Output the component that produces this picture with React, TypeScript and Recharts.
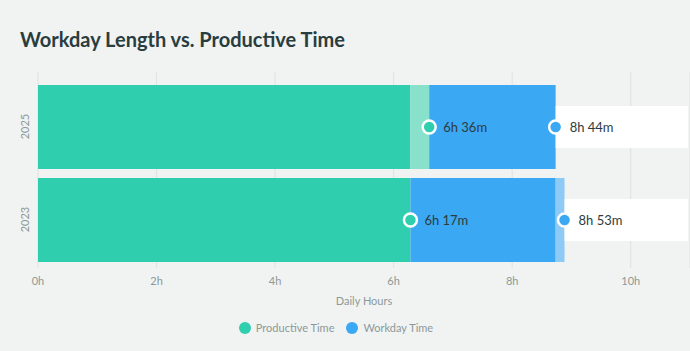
import { BarChart, Bar, XAxis, YAxis, CartesianGrid, Legend, LabelList } from "recharts";

const years = ["2025", "2023"];
const productiveMinutes = [396, 377]; // 6h 36m, 6h 17m
const workdayMinutes = [524, 533]; // 8h 44m, 8h 53m
const hourTicks = [0, 2, 4, 6, 8, 10];
const seriesNames = ["Productive Time", "Workday Time"];

const X_MAX = 11;
const GREEN = "#2fceae";
const GREEN_LIGHT = "#88e2cb";
const BLUE = "#3aa8f3";
const BLUE_LIGHT = "#8dcaf6";
const BG = "#f0f3f2";
const MUTED = "#8d9999";
const FONT = "Lato, 'Open Sans', sans-serif";

const fmt = (m: number) => `${Math.floor(m / 60)}h ${m % 60}m`;

const minProd = Math.min(...productiveMinutes) / 60;
const minWork = Math.min(...workdayMinutes) / 60;

// stacked segments: shared part in full colour, the gap to the other year in a lighter tint
const data = years.map((year, i) => {
  const prod = productiveMinutes[i] / 60;
  const work = workdayMinutes[i] / 60;
  return {
    year,
    prodBase: minProd,
    prodExtra: prod - minProd,
    workBase: minWork - prod,
    workExtra: work - minWork,
    workday: work,
  };
});

function ValueMarks(props: any) {
  const { x, y, width, height, value } = props;
  const i = years.indexOf(String(value));
  if (i < 0) return null;
  const perHour = width / (workdayMinutes[i] / 60);
  const cy = y + height / 2;
  const px = x + (productiveMinutes[i] / 60) * perHour;
  const wx = x + width;
  const right = x + X_MAX * perHour - 2;
  return (
    <g>
      <rect x={wx} y={cy - 21} width={right - wx} height={42} fill="#ffffff" />
      <circle cx={px} cy={cy} r={6.5} fill={GREEN} stroke="#fff" strokeWidth={2.5} />
      <text x={px + 14} y={cy} dominantBaseline="central" fontSize={13} fill="#2e3b3b" fontFamily={FONT}>
        {fmt(productiveMinutes[i])}
      </text>
      <circle cx={wx} cy={cy} r={6.5} fill={BLUE} stroke="#fff" strokeWidth={2.5} />
      <text x={wx + 14} y={cy} dominantBaseline="central" fontSize={13} fill="#2e3b3b" fontFamily={FONT}>
        {fmt(workdayMinutes[i])}
      </text>
    </g>
  );
}

function YearTick(props: any) {
  const { y, payload } = props;
  return (
    <text
      x={24}
      y={y}
      transform={`rotate(-90, 24, ${y})`}
      textAnchor="middle"
      dominantBaseline="central"
      fontSize={11}
      fill={MUTED}
      fontFamily={FONT}
    >
      {payload.value}
    </text>
  );
}

const renderLegend = () => (
  <div
    style={{
      display: "flex",
      justifyContent: "center",
      gap: 12,
      paddingRight: 18,
      fontSize: 11,
      lineHeight: "20px",
      color: MUTED,
      fontFamily: FONT,
    }}
  >
    {seriesNames.map((n, i) => (
      <span key={n} style={{ display: "flex", alignItems: "center" }}>
        <span
          style={{
            width: 12,
            height: 12,
            borderRadius: 6,
            background: i === 0 ? GREEN : BLUE,
            marginRight: 5,
          }}
        />
        {n}
      </span>
    ))}
  </div>
);

export default function App() {
  return (
    <div
      style={{
        position: "absolute",
        left: 0,
        top: 0,
        width: 690,
        height: 351,
        background: BG,
        fontFamily: FONT,
        overflow: "hidden",
      }}
    >
      <div
        style={{
          position: "absolute",
          left: 20,
          top: 27,
          fontSize: 20,
          fontWeight: 700,
          color: "#2a3d3e",
          lineHeight: "24px",
        }}
      >
        Workday Length vs. Productive Time
      </div>
      <BarChart
        width={690}
        height={351}
        data={data}
        layout="vertical"
        margin={{ top: 72, right: 0, bottom: 13, left: 0 }}
      >
        <XAxis
          type="number"
          domain={[0, X_MAX]}
          ticks={hourTicks}
          tickFormatter={(v) => `${v}h`}
          axisLine={false}
          tickLine={false}
          tickMargin={3}
          height={50}
          tick={{ fontSize: 11, fill: MUTED, fontFamily: FONT }}
          label={{ value: "Daily Hours", position: "insideBottom", offset: 13, fontSize: 11, fill: MUTED, fontFamily: FONT }}
        />
        <YAxis
          yAxisId="main"
          type="category"
          dataKey="year"
          width={38}
          axisLine={false}
          tickLine={false}
          tick={<YearTick />}
          padding={{ top: 8, bottom: 2 }}
        />
        <YAxis yAxisId="marks" type="category" dataKey="year" hide padding={{ top: 8, bottom: 2 }} />
        <Legend verticalAlign="bottom" height={20} content={renderLegend} />
        <Bar yAxisId="main" dataKey="prodBase" stackId="a" fill={GREEN} barSize={84} isAnimationActive={false} legendType="none" />
        <Bar yAxisId="main" dataKey="prodExtra" stackId="a" fill={GREEN_LIGHT} barSize={84} isAnimationActive={false} legendType="none" />
        <Bar yAxisId="main" dataKey="workBase" stackId="a" fill={BLUE} barSize={84} isAnimationActive={false} legendType="none" />
        <Bar yAxisId="main" dataKey="workExtra" stackId="a" fill={BLUE_LIGHT} barSize={84} isAnimationActive={false} legendType="none" />
        <CartesianGrid horizontal={false} stroke="rgba(110,130,130,0.14)" yAxisId="main" />
        <Bar yAxisId="marks" dataKey="workday" fill="transparent" barSize={84} isAnimationActive={false} legendType="none">
          <LabelList dataKey="year" content={<ValueMarks />} />
        </Bar>
      </BarChart>
    </div>
  );
}
